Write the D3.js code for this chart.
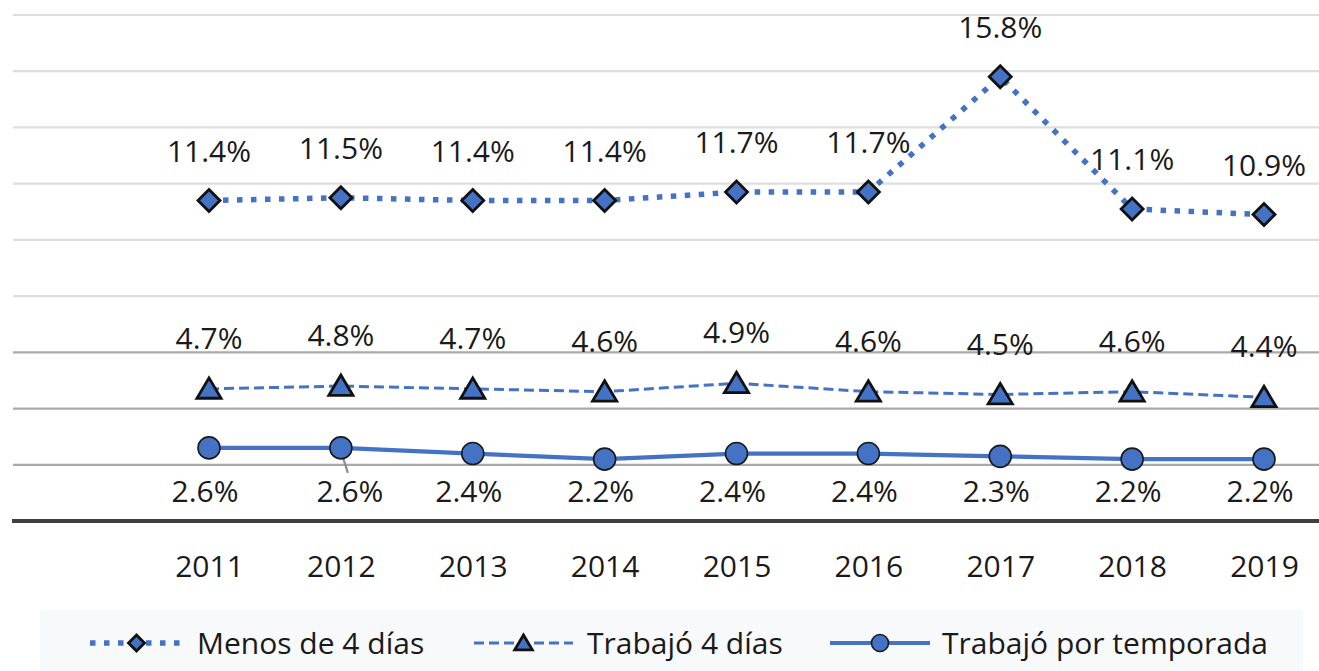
<!DOCTYPE html>
<html>
<head>
<meta charset="utf-8">
<script src="https://cdn.jsdelivr.net/npm/d3@7"></script>
<style>
  html, body { margin: 0; padding: 0; background: #ffffff; }
  svg { display: block; font-family: "Open Sans", "Liberation Sans", sans-serif; }
</style>
</head>
<body>
<svg id="chart" width="1319" height="671"></svg>
<script>
// ---- data ----
const years = ["2011", "2012", "2013", "2014", "2015", "2016", "2017", "2018", "2019"];
const menos4 = [11.4, 11.5, 11.4, 11.4, 11.7, 11.7, 15.8, 11.1, 10.9];
const trabajo4 = [4.7, 4.8, 4.7, 4.6, 4.9, 4.6, 4.5, 4.6, 4.4];
const temporada = [2.6, 2.6, 2.4, 2.2, 2.4, 2.4, 2.3, 2.2, 2.2];
const seriesNames = ["Menos de 4 días", "Trabajó 4 días", "Trabajó por temporada"];
const yTicks = [2, 4, 6, 8, 10, 12, 14, 16, 18];

// ---- setup ----
const svg = d3.select("#chart");
const blue = "#4472C4";
const markerStroke = "#111111";
const textColor = "#1a1a1a";
const fontSize = 30;

const x = d3.scalePoint().domain(years).range([209, 1264]);
const y = d3.scaleLinear().domain([0, 18]).range([521, 15]);

// gridlines
const grid = svg.append("g");
grid.selectAll("line").data(yTicks).join("line")
  .attr("x1", 13).attr("x2", 1319)
  .attr("y1", d => y(d)).attr("y2", d => y(d))
  .attr("stroke", d => d <= 6 ? "#a9a9a9" : "#dedede")
  .attr("stroke-width", 2.2);

// baseline (x axis)
const xAxis = d3.axisBottom(x).tickSize(0).tickPadding(0);
const xg = svg.append("g").attr("transform", `translate(0,${y(0)})`).call(xAxis);
xg.select(".domain").remove();
svg.append("line")
  .attr("x1", 12).attr("x2", 1319)
  .attr("y1", y(0)).attr("y2", y(0))
  .attr("stroke", "#3f3f3f").attr("stroke-width", 4);
xg.selectAll(".tick text")
  .attr("y", 56)
  .attr("dy", 0)
  .attr("font-size", fontSize)
  .attr("font-family", "'Open Sans', sans-serif")
  .attr("fill", textColor);

// series definitions
const series = [
  { name: seriesNames[0], values: menos4, width: 5.5, dash: "5.5,8.5", shape: "diamond", labelDy: -39 },
  { name: seriesNames[1], values: trabajo4, width: 3, dash: "10,5", shape: "triangle", labelDy: -40 },
  { name: seriesNames[2], values: temporada, width: 4.2, dash: null, shape: "circle", labelDy: null }
];

const line = d3.line().x((d, i) => x(years[i])).y(d => y(d));

function drawMarker(g, shape, size) {
  if (shape === "diamond") {
    const s = size;
    g.append("path").attr("d", `M0,${-s}L${s},0L0,${s}L${-s},0Z`)
      .attr("fill", blue).attr("stroke", markerStroke).attr("stroke-width", 2.8)
      .attr("stroke-linejoin", "miter");
  } else if (shape === "triangle") {
    const w = size * 1.1, h = size;
    g.append("path").attr("d", `M0,${-h}L${w},${h * 0.85}L${-w},${h * 0.85}Z`)
      .attr("fill", blue).attr("stroke", markerStroke).attr("stroke-width", 2.8)
      .attr("stroke-linejoin", "miter");
  } else {
    g.append("circle").attr("r", size)
      .attr("fill", blue).attr("stroke", "#1a1a1a").attr("stroke-width", 1.6);
  }
}

// leader line for 2012 temporada label
svg.append("line")
  .attr("x1", x("2012")).attr("y1", y(temporada[1]) + 3)
  .attr("x2", x("2012") + 7).attr("y2", y(temporada[1]) + 25)
  .attr("stroke", "#8c8c8c").attr("stroke-width", 2.2);

series.forEach(s => {
  svg.append("path")
    .datum(s.values)
    .attr("d", line)
    .attr("fill", "none")
    .attr("stroke", blue)
    .attr("stroke-width", s.width)
    .attr("stroke-dasharray", s.dash)
    .attr("stroke-linejoin", "round");
});

series.forEach(s => {
  const sizes = { diamond: 11, triangle: 11, circle: 11 };
  s.values.forEach((v, i) => {
    const g = svg.append("g").attr("transform", `translate(${x(years[i])},${y(v)})`);
    drawMarker(g, s.shape, sizes[s.shape]);
  });
});

// data labels
series.forEach(s => {
  svg.append("g").selectAll("text").data(s.values).join("text")
    .attr("x", (d, i) => x(years[i]) + (s.shape === "circle" && i === 1 ? 9 : (s.shape === "circle" ? -4 : 0)))
    .attr("y", d => s.labelDy === null ? y(0) - 19 : y(d) + s.labelDy)
    .attr("text-anchor", "middle")
    .attr("font-size", fontSize)
    .attr("fill", textColor)
    .text(d => d.toFixed(1) + "%");
});

// legend
const legend = svg.append("g");
legend.append("rect")
  .attr("x", 40).attr("y", 610).attr("width", 1263).attr("height", 61)
  .attr("fill", "#f8f9fb");
const legendItems = [
  { x0: 90, x1: 183, text: 197 },
  { x0: 474, x1: 573, text: 587 },
  { x0: 830, x1: 930, text: 942 }
];
series.forEach((s, i) => {
  const it = legendItems[i];
  const ly = 643;
  legend.append("line")
    .attr("x1", it.x0).attr("x2", it.x1).attr("y1", ly).attr("y2", ly)
    .attr("stroke", blue).attr("stroke-width", s.width)
    .attr("stroke-dasharray", s.dash);
  const g = legend.append("g").attr("transform", `translate(${(it.x0 + it.x1) / 2},${ly})`);
  drawMarker(g, s.shape, s.shape === "circle" ? 8.5 : 8);
  legend.append("text")
    .attr("x", it.text).attr("y", 654)
    .attr("font-size", fontSize)
    .attr("fill", textColor)
    .text(s.name);
});
</script>
</body>
</html>
